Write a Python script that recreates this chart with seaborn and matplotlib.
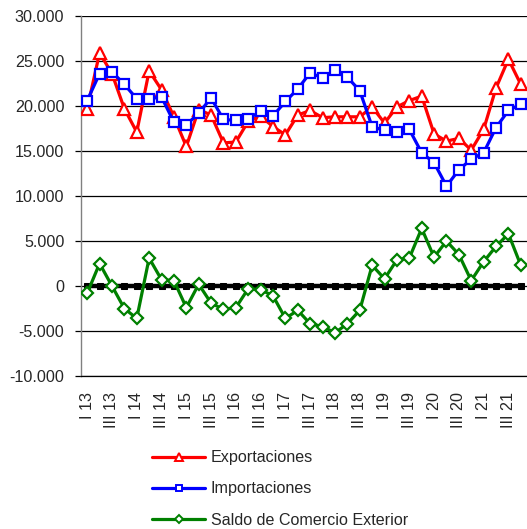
import matplotlib
matplotlib.use("Agg")
import matplotlib.pyplot as plt
from matplotlib.ticker import FixedLocator, FuncFormatter
import numpy as np
import pandas as pd
import seaborn as sns

# Quarterly trade figures, I 2013 .. IV 2021
years = [str(y) for y in range(13, 22)]
quarter_names = ["I", "II", "III", "IV"]
periods = [f"{q} {y}" for y in years for q in quarter_names]

exportaciones = [19700, 25900, 23600, 19700, 17100, 23900, 21800, 18800, 15500, 19600,
                 19000, 15900, 16000, 18300, 18900, 17700, 16800, 19000, 19500, 18700,
                 18800, 18800, 18800, 19900, 18100, 19900, 20600, 21100, 16900, 16100,
                 16400, 15100, 17400, 22000, 25200, 22400]
importaciones = [20600, 23600, 23800, 22400, 20800, 20800, 21000, 18200, 17900, 19200,
                 20900, 18500, 18400, 18600, 19400, 18900, 20500, 21900, 23700, 23100,
                 24000, 23200, 21700, 17700, 17300, 17100, 17400, 14800, 13700, 11100,
                 12900, 14100, 14800, 17600, 19500, 20200]
saldo = [-800, 2500, 0, -2500, -3600, 3100, 700, 600, -2400, 200,
         -1900, -2600, -2400, -300, -400, -1100, -3600, -2700, -4200, -4500,
         -5200, -4200, -2700, 2300, 800, 2900, 3100, 6400, 3200, 5000,
         3500, 600, 2700, 4400, 5800, 2300]
y_ticks = [-10000, -5000, 0, 5000, 10000, 15000, 20000, 25000, 30000]

df = pd.DataFrame({
    "pos": np.arange(len(periods)),
    "periodo": periods,
    "Exportaciones": exportaciones,
    "Importaciones": importaciones,
    "Saldo de Comercio Exterior": saldo,
    "cero": np.zeros(len(periods)),
})

sns.set_style("white")
plt.rcParams["font.family"] = ["Liberation Sans", "DejaVu Sans"]
FS = 11.6
plt.rcParams["font.size"] = FS

W, H = 527, 529
fig = plt.figure(figsize=(W / 100, H / 100), dpi=100)
ax = fig.add_axes([81 / W, 1 - 376 / H, (W - 81) / W, (376 - 16) / H])

# horizontal grid
for v in y_ticks:
    ax.axhline(v, color="black", lw=0.9, zorder=1)

# zero reference series
sns.lineplot(data=df, x="pos", y="cero", ax=ax, color="black", lw=3.2,
             marker="s", markersize=5, markeredgecolor="black",
             markerfacecolor="black", zorder=2, legend=False)

series_style = [
    ("Exportaciones", "#ff0000", "^", 8.5),
    ("Importaciones", "#0000ff", "s", 7.5),
    ("Saldo de Comercio Exterior", "#008000", "D", 6.5),
]
handles = []
for name, col, mk, ms in series_style:
    sns.lineplot(data=df, x="pos", y=name, ax=ax, color=col, lw=2.3,
                 marker=mk, markersize=ms, markerfacecolor="white",
                 markeredgecolor=col, markeredgewidth=1.6, zorder=3,
                 legend=False)
    handles.append(plt.Line2D([], [], color=col, lw=2.3, marker=mk,
                              markersize=ms * 0.65, markerfacecolor="white",
                              markeredgecolor=col, markeredgewidth=1.4,
                              label=name))

ax.set_xlim(-0.5, len(periods) - 0.5)
ax.set_ylim(-10000, 30000)
ax.yaxis.set_major_locator(FixedLocator(y_ticks))
ax.yaxis.set_major_formatter(FuncFormatter(lambda v, p: f"{int(v):,}".replace(",", ".")))
label_pos = list(range(0, len(periods), 2))
ax.set_xticks(label_pos)
ax.set_xticklabels([periods[i] for i in label_pos], rotation=90, va="top", ha="center")
ax.set_xlabel("")
ax.set_ylabel("")

ax.tick_params(axis="y", left=True, length=4, width=0.9, color="black",
               labelsize=FS, pad=8)
ax.tick_params(axis="x", bottom=False, labelsize=FS, pad=8)

for s in ["top", "right"]:
    ax.spines[s].set_visible(False)
ax.spines["left"].set_color("#808080")
ax.spines["left"].set_linewidth(1.0)
ax.spines["bottom"].set_color("black")
ax.spines["bottom"].set_linewidth(0.9)

fig.legend(handles=handles, loc="center left",
           bbox_to_anchor=(152 / W, 1 - 489 / H), frameon=False,
           fontsize=FS, handlelength=3.3, handletextpad=0.35,
           labelspacing=1.0, borderpad=0, borderaxespad=0)

fig.savefig("out.png", dpi=100)
